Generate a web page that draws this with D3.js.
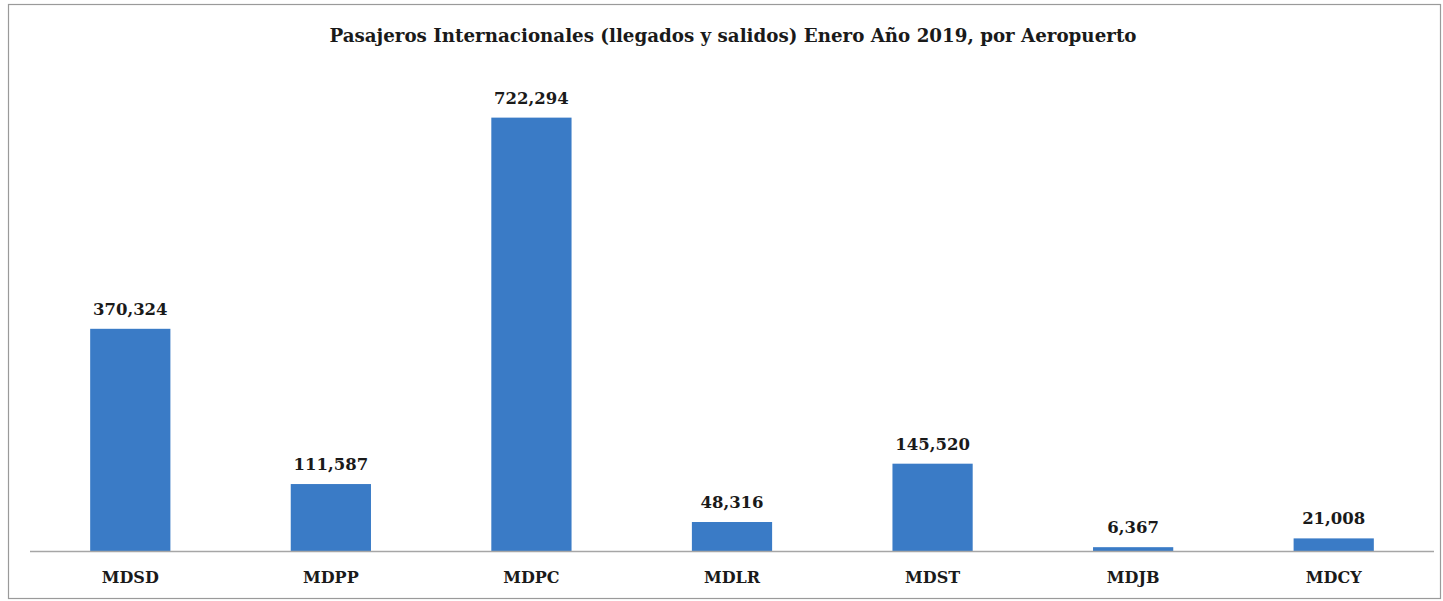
<!DOCTYPE html>
<html>
<head>
<meta charset="utf-8">
<script src="https://cdn.jsdelivr.net/npm/d3@7"></script>
<style>
  body { margin: 0; background: #fff; }
  svg { display: block; }
</style>
</head>
<body>
<div id="chart"></div>
<script>
var airports = ["MDSD", "MDPP", "MDPC", "MDLR", "MDST", "MDJB", "MDCY"];
var passengers = [370324, 111587, 722294, 48316, 145520, 6367, 21008];
var title = "Pasajeros Internacionales (llegados y salidos) Enero Año 2019, por Aeropuerto";

var width = 1443
 ,  height = 601
 ,  baseY = 551
 ,  left = 30
 ,  right = 1434;

var svg = d3.select("#chart")
  .append("svg")
    .attr("width", width)
    .attr("height", height);

// outer frame
svg.append("rect")
  .attr("x", 8.5).attr("y", 4.5)
  .attr("width", 1432).attr("height", 594)
  .attr("fill", "none")
  .attr("stroke", "#9a9a9a")
  .attr("stroke-width", 1.2);

var x = d3.scaleBand()
  .domain(airports)
  .range([left, right])
  .paddingInner(0.6)
  .paddingOuter(0.3);

var y = d3.scaleLinear()
  .domain([0, 800000])
  .range([baseY, baseY - 800000 * 0.0006]);

var data = airports.map(function(a, i) { return {name: a, value: passengers[i]}; });

svg.selectAll(".bar").data(data)
  .enter().append("rect")
    .attr("class", "bar")
    .attr("x", function(d) { return x(d.name); })
    .attr("y", function(d) { return y(d.value); })
    .attr("width", x.bandwidth())
    .attr("height", function(d) { return y(0) - y(d.value); })
    .attr("fill", "#3a7bc6");

// baseline
svg.append("line")
  .attr("x1", left).attr("x2", right)
  .attr("y1", y(0) + 0.5).attr("y2", y(0) + 0.5)
  .attr("stroke", "#a6a6a6")
  .attr("stroke-width", 1.3);

var fmt = d3.format(",");

svg.selectAll(".value").data(data)
  .enter().append("text")
    .attr("class", "value")
    .attr("x", function(d) { return x(d.name) + x.bandwidth() / 2; })
    .attr("y", function(d) { return y(d.value) - 14; })
    .attr("text-anchor", "middle")
    .attr("font-family", "DejaVu Serif")
    .attr("font-weight", "bold")
    .attr("font-size", "16.5px")
    .attr("fill", "#1a1a1a")
    .text(function(d) { return fmt(d.value); });

var xAxis = svg.append("g")
  .attr("transform", "translate(0," + y(0) + ")")
  .call(d3.axisBottom(x).tickSize(0).tickPadding(0));
xAxis.select(".domain").remove();
xAxis.selectAll("text")
  .attr("dy", null)
  .attr("y", 32)
  .attr("font-family", "DejaVu Serif")
  .attr("font-weight", "bold")
  .attr("font-size", "16px")
  .attr("fill", "#1a1a1a");

var t = svg.append("text")
  .attr("x", 733)
  .attr("y", 42)
  .attr("text-anchor", "middle")
  .attr("font-family", "DejaVu Serif Condensed")
  .attr("font-weight", "bold")
  .attr("font-size", "19px")
  .attr("fill", "#1a1a1a")
  .text(title);
t.attr("textLength", 807).attr("lengthAdjust", "spacingAndGlyphs");
</script>
</body>
</html>
